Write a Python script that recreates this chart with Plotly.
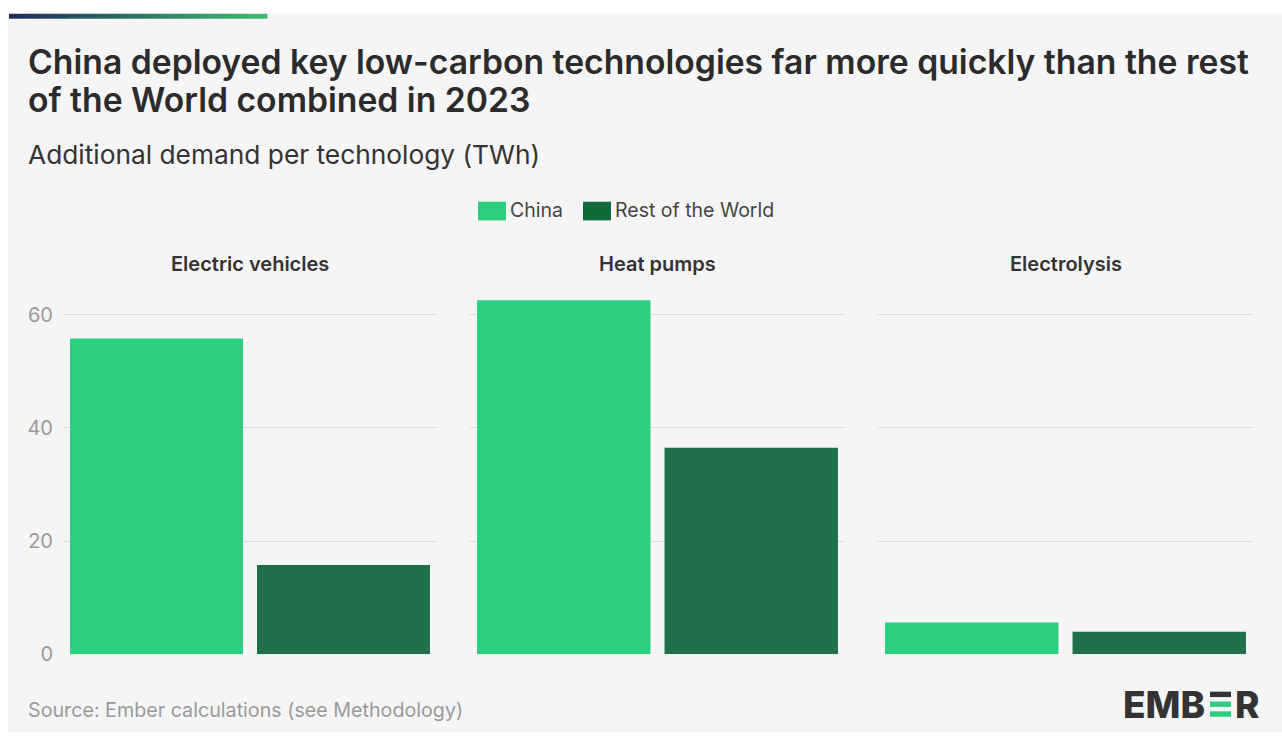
import plotly.graph_objects as go
from plotly.subplots import make_subplots

W, H = 1282, 744

technologies = ["Electric vehicles", "Heat pumps", "Electrolysis"]
series_names = ["China", "Rest of the World"]
china_values = [55.8, 62.6, 5.6]
rest_values = [15.8, 36.5, 4.0]
y_ticks = [0, 20, 40, 60]

title_lines = ["China deployed key low-carbon technologies far more quickly than the rest",
               "of the World combined in 2023"]
subtitle = "Additional demand per technology (TWh)"
source = "Source: Ember calculations (see Methodology)"

COL_CHINA = "#2ccf80"
COL_ROW = "#20714a"
COL_ROW_LEG = "#0f6b3a"
BG = "#f5f5f5"
FONT = "Inter"


def px(x):
    return x / W


def py(y):
    return 1 - y / H


fig = make_subplots(rows=1, cols=3, shared_yaxes=False, horizontal_spacing=0.02)

panels = [(63, 437), (470, 845), (878, 1253)]
y_top_px, y_bot_px = 291.25, 665
for i, tech in enumerate(technologies):
    vals = [china_values[i], rest_values[i]]
    fig.add_trace(
        go.Bar(x=series_names, y=vals, marker=dict(color=[COL_CHINA, COL_ROW], line=dict(width=0)),
               showlegend=False, hoverinfo="x+y"),
        row=1, col=i + 1)
    ax = "xaxis" if i == 0 else f"xaxis{i+1}"
    ay = "yaxis" if i == 0 else f"yaxis{i+1}"
    fig.layout[ax].update(domain=[px(panels[i][0]), px(panels[i][1])], showticklabels=False,
                          showgrid=False, zeroline=False, showline=False, ticks="")
    fig.layout[ay].update(domain=[py(y_bot_px), py(y_top_px)], range=[0, 65], tickvals=y_ticks,
                          showticklabels=(i == 0), showgrid=True, gridcolor="#dcdcdc", gridwidth=1,
                          zeroline=False, showline=False, ticks="", ticklabelstandoff=9,
                          tickfont=dict(family=FONT, size=20, color="#9a9a9a"))
    fig.add_annotation(x=px((panels[i][0] + panels[i][1]) / 2), y=py(268), xref="paper", yref="paper",
                       text=tech, showarrow=False, xanchor="center", yanchor="middle",
                       font=dict(family=FONT, size=20, color="#333333", weight=600))

shapes = []
# background panel
shapes.append(dict(type="rect", xref="paper", yref="paper", x0=px(8), x1=1, y0=0, y1=py(14),
                   fillcolor=BG, line=dict(width=0), layer="below"))
# gradient accent bar
n = 60
c0 = (0x1e, 0x2a, 0x5c)
c1 = (0x3d, 0xbd, 0x6c)
x_start, x_end = 9, 267
for k in range(n):
    t = k / (n - 1)
    c = tuple(int(round(c0[j] + (c1[j] - c0[j]) * t)) for j in range(3))
    xa = x_start + (x_end - x_start) * k / n
    xb = x_start + (x_end - x_start) * (k + 1) / n + 0.5
    shapes.append(dict(type="rect", xref="paper", yref="paper", x0=px(xa), x1=px(xb),
                       y0=py(19), y1=py(14), fillcolor="rgb(%d,%d,%d)" % c, line=dict(width=0)))

# legend swatches
leg_items = [(478, 506, series_names[0], COL_CHINA), (583, 611, series_names[1], COL_ROW_LEG)]
for x0, x1, name, col in leg_items:
    shapes.append(dict(type="rect", xref="paper", yref="paper", x0=px(x0), x1=px(x1),
                       y0=py(224), y1=py(205), fillcolor=col, line=dict(width=0)))
    fig.add_annotation(x=px(x1 + 2), y=py(213), xref="paper", yref="paper", text=name,
                       showarrow=False, xanchor="left", yanchor="middle",
                       font=dict(family=FONT, size=19.5, color="#444444"))

# logo bars (the stylised E)
logo_bars = [(1210, 1231, 703, 708.5, "#333333"), (1210, 1231, 713, 718.5, COL_CHINA),
             (1210, 1231, 723, 728.5, COL_CHINA)]
for xa, xb, ya, yb, col in logo_bars:
    shapes.append(dict(type="rect", xref="paper", yref="paper", x0=px(xa), x1=px(xb),
                       y0=py(yb), y1=py(ya), fillcolor=col, line=dict(width=0)))

fig.update_layout(shapes=shapes)

# title
fig.add_annotation(x=px(26), y=py(62), xref="paper", yref="paper", text=title_lines[0],
                   showarrow=False, xanchor="left", yanchor="middle",
                   font=dict(family=FONT, size=33.7, color="#2b2b2b", weight=600))
fig.add_annotation(x=px(26), y=py(101), xref="paper", yref="paper", text=title_lines[1],
                   showarrow=False, xanchor="left", yanchor="middle",
                   font=dict(family=FONT, size=33.7, color="#2b2b2b", weight=600))
fig.add_annotation(x=px(26), y=py(157), xref="paper", yref="paper", text=subtitle,
                   showarrow=False, xanchor="left", yanchor="middle",
                   font=dict(family=FONT, size=26.3, color="#333333"))
fig.add_annotation(x=px(26), y=py(722), xref="paper", yref="paper", text=source,
                   showarrow=False, xanchor="left", yanchor="middle",
                   font=dict(family=FONT, size=19.7, color="#9a9a9a"))
# logo text
fig.add_annotation(x=px(1207), y=py(716), xref="paper", yref="paper", text="EMB",
                   showarrow=False, xanchor="right", yanchor="middle",
                   font=dict(family=FONT, size=37, color="#333333", weight=800))
fig.add_annotation(x=px(1233), y=py(716), xref="paper", yref="paper", text="R",
                   showarrow=False, xanchor="left", yanchor="middle",
                   font=dict(family=FONT, size=37, color="#333333", weight=800))

fig.update_layout(width=W, height=H, margin=dict(l=0, r=0, t=0, b=0),
                  paper_bgcolor="white", plot_bgcolor="rgba(0,0,0,0)",
                  bargap=0.075, showlegend=False, font=dict(family=FONT))

fig.write_html("out.html", config={"displayModeBar": False},
               post_script="document.body.style.margin='0';")
